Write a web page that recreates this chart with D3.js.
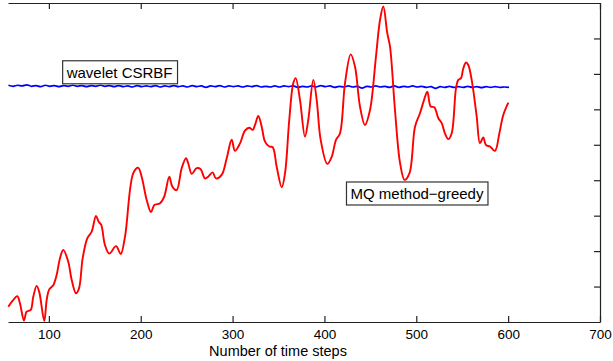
<!DOCTYPE html>
<html>
<head>
<meta charset="utf-8">
<script src="https://cdn.jsdelivr.net/npm/d3@7"></script>
<style>
    body { margin: 0; background: #fff; }
    svg { display: block; font-family: "Liberation Sans", Arial, Helvetica, sans-serif; }
    .axis path, .axis line { stroke: #222; stroke-width: 1.2; }
    .axis text { fill: #000; font-size: 13.5px; }
</style>
</head>
<body>
<div id="chart"></div>
<script>
// Data.
const X_TICKS = [100, 200, 300, 400, 500, 600, 700];
const Y_TICKS = [1, 2, 3, 4, 5, 6, 7, 8];

// MQ method-greedy (red)
const mqSteps = [
    55.8, 60.6, 65.6, 68.5, 72.9, 75.8, 80.2, 83.0, 86.7, 89.5,
    95.0, 97.6, 100.4, 104.8, 108.5, 112.1, 115.7, 121.1, 124.8, 129.5,
    132.8, 136.8, 141.8, 146.6, 151.3, 154.2, 157.0, 161.1, 165.8, 173.1,
    178.2, 182.9, 191.9, 197.3, 201.0, 206.5, 211.2, 214.8, 221.0, 225.6,
    231.1, 234.4, 239.1, 244.6, 249.3, 252.2, 255.5, 260.9, 265.0, 270.0,
    273.5, 278.3, 281.9, 288.1, 293.6, 299.0, 302.6, 308.1, 313.5, 318.2,
    321.9, 324.4, 328.0, 331.7, 335.3, 340.0, 343.7, 348.0, 353.5, 357.1,
    361.7, 366.1, 368.7, 373.4, 378.8, 382.4, 387.9, 391.6, 395.9, 403.1,
    407.9, 412.6, 416.9, 422.4, 428.6, 433.3, 438.7, 444.1, 449.6, 456.1,
    460.5, 464.1, 468.4, 471.4, 476.8, 482.3, 487.2, 492.6, 498.6, 504.0,
    508.4, 512.0, 515.7, 519.6, 524.0, 527.7, 531.2, 534.8, 538.5, 543.2,
    545.7, 548.7, 551.2, 554.1, 556.6, 560.3, 565.8, 569.3, 572.9, 575.9,
    580.2, 585.7, 590.4, 594.7, 600.2
];
const mqValues = [
    0.43, 0.60, 0.73, 0.53, 0.04, 0.29, 0.34, 0.71, 1.02, 0.85,
    0.03, 0.62, 0.92, 1.04, 1.33, 1.80, 2.03, 1.70, 1.19, 0.81,
    0.95, 1.80, 2.36, 2.55, 2.99, 2.83, 2.74, 2.17, 1.93, 2.14,
    1.92, 2.41, 4.20, 4.35, 4.10, 3.44, 3.10, 3.30, 3.35, 3.54,
    4.10, 3.82, 3.72, 4.34, 4.62, 4.43, 4.18, 4.34, 4.32, 4.05,
    4.10, 4.22, 4.05, 4.15, 4.62, 5.14, 4.83, 5.04, 5.40, 5.48,
    5.42, 5.56, 5.81, 5.51, 5.09, 4.95, 4.93, 4.38, 3.80, 4.20,
    5.70, 6.74, 6.88, 6.26, 5.23, 5.70, 6.83, 6.26, 5.14, 4.46,
    4.66, 5.14, 5.32, 6.74, 7.55, 7.20, 6.08, 5.56, 5.98, 7.49,
    8.52, 8.90, 8.15, 7.77, 5.98, 4.49, 4.01, 4.20, 5.51, 5.89,
    6.26, 6.50, 6.08, 6.06, 5.75, 5.61, 5.32, 5.16, 5.32, 6.59,
    6.83, 6.88, 7.16, 7.32, 7.25, 6.83, 5.79, 5.04, 5.21, 4.99,
    4.95, 4.83, 5.32, 5.84, 6.19
];

// wavelet CSRBF (blue), one value every 5 time steps from step 56
const waveletStart = 56;
const waveletStep = 5;
const waveletValues = [
    6.68, 6.65, 6.68, 6.66, 6.69, 6.65, 6.67, 6.64, 6.68, 6.65,
    6.67, 6.64, 6.67, 6.65, 6.68, 6.65, 6.67, 6.64, 6.67, 6.65,
    6.68, 6.65, 6.67, 6.64, 6.67, 6.64, 6.66, 6.63, 6.67, 6.64,
    6.66, 6.64, 6.67, 6.63, 6.66, 6.64, 6.67, 6.64, 6.66, 6.63,
    6.67, 6.64, 6.66, 6.62, 6.66, 6.64, 6.67, 6.63, 6.66, 6.64,
    6.66, 6.63, 6.66, 6.64, 6.67, 6.63, 6.65, 6.63, 6.66, 6.63,
    6.66, 6.64, 6.66, 6.62, 6.65, 6.63, 6.66, 6.63, 6.67, 6.64,
    6.66, 6.62, 6.65, 6.63, 6.66, 6.63, 6.65, 6.60, 6.65, 6.63,
    6.66, 6.63, 6.65, 6.62, 6.66, 6.62, 6.65, 6.63, 6.66, 6.63,
    6.65, 6.62, 6.64, 6.59, 6.64, 6.62, 6.65, 6.62, 6.64, 6.62,
    6.65, 6.62, 6.64, 6.61, 6.64, 6.62, 6.64, 6.62, 6.63, 6.62
];

// Text boxes, anchored at their top-left corner in data units.
const LABELS = [
    { text: 'wavelet CSRBF', step: 115, value: 7.37 },
    { text: 'MQ method\u2212greedy', step: 424, value: 3.95 }
];

const width = 613, height = 361;
const margin = { top: 3, right: 13, bottom: 39, left: 8 };

const svg = d3.select('#chart').append('svg')
    .attr('width', width)
    .attr('height', height);

const xScale = d3.scaleLinear()
    .domain([55.5, 700])
    .range([margin.left, width - margin.right]);

const yScale = d3.scaleLinear()
    .domain([0, 9])
    .range([height - margin.bottom, margin.top]);

// Axes: ticks point inward, only the bottom one has labels.
svg.append('g')
    .attr('class', 'axis')
    .attr('transform', `translate(0,${height - margin.bottom})`)
    .call(d3.axisBottom(xScale).tickValues(X_TICKS).tickSizeInner(-6).tickSizeOuter(0).tickPadding(7));

svg.append('g')
    .attr('class', 'axis')
    .attr('transform', `translate(0,${margin.top})`)
    .call(d3.axisTop(xScale).tickValues(X_TICKS).tickSizeInner(-6).tickSizeOuter(0).tickFormat(''));

svg.append('g')
    .attr('class', 'axis')
    .attr('transform', `translate(${width - margin.right},0)`)
    .call(d3.axisLeft(yScale).tickValues(Y_TICKS).tickSizeInner(6).tickSizeOuter(0).tickFormat(''));

svg.append('text')
    .attr('x', 278)
    .attr('y', 356)
    .attr('text-anchor', 'middle')
    .style('font-size', '14.5px')
    .text('Number of time steps');

const line = d3.line()
    .x(d => xScale(d[0]))
    .y(d => yScale(d[1]))
    .curve(d3.curveCatmullRom);

const waveletPoints = waveletValues.map((v, i) => [waveletStart + i * waveletStep, v]);
const mqPoints = mqSteps.map((s, i) => [s, mqValues[i]]);

svg.append('path')
    .datum(waveletPoints)
    .attr('fill', 'none')
    .attr('stroke', '#0000ff')
    .attr('stroke-width', 1.7)
    .attr('d', line);

svg.append('path')
    .datum(mqPoints)
    .attr('fill', 'none')
    .attr('stroke', '#ff0000')
    .attr('stroke-width', 1.9)
    .attr('d', line);

// Text boxes
LABELS.forEach(l => {
    const g = svg.append('g');
    const x0 = xScale(l.step), y0 = yScale(l.value);
    const rect = g.append('rect')
        .attr('fill', '#fff')
        .attr('stroke', '#333')
        .attr('stroke-width', 1.2);
    const t = g.append('text')
        .attr('x', x0 + 4)
        .attr('y', y0 + 17)
        .style('font-size', '15px')
        .text(l.text);
    const bb = t.node().getBBox();
    rect.attr('x', x0)
        .attr('y', y0)
        .attr('width', bb.width + 8)
        .attr('height', 23);
});
</script>
</body>
</html>
